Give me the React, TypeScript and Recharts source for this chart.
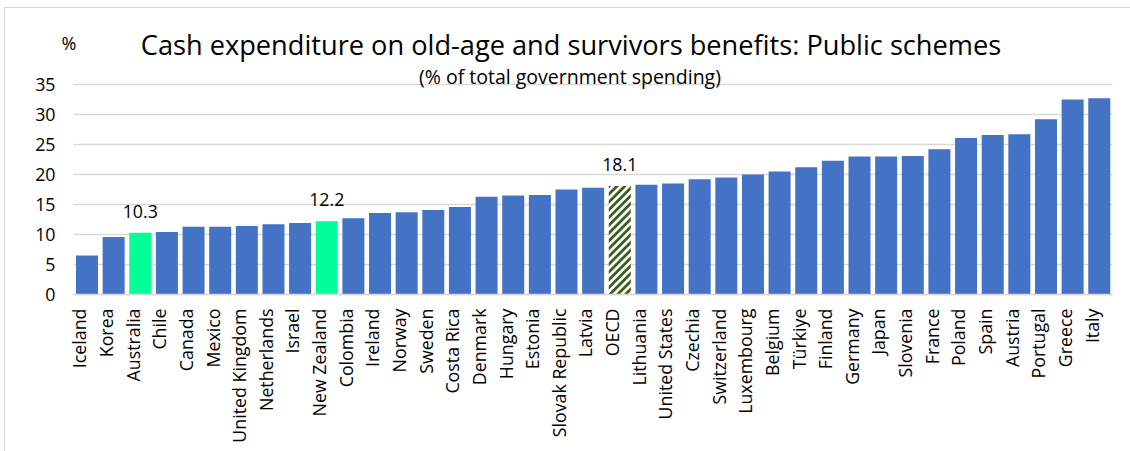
import React from "react";
import { BarChart, Bar, XAxis, YAxis, CartesianGrid, Cell, LabelList } from "recharts";

const countries = [
  "Iceland", "Korea", "Australia", "Chile", "Canada", "Mexico", "United Kingdom", "Netherlands",
  "Israel", "New Zealand", "Colombia", "Ireland", "Norway", "Sweden", "Costa Rica", "Denmark",
  "Hungary", "Estonia", "Slovak Republic", "Latvia", "OECD", "Lithuania", "United States", "Czechia",
  "Switzerland", "Luxembourg", "Belgium", "Türkiye", "Finland", "Germany", "Japan", "Slovenia",
  "France", "Poland", "Spain", "Austria", "Portugal", "Greece", "Italy",
];

const values = [
  6.5, 9.6, 10.3, 10.4, 11.3, 11.3, 11.4, 11.7,
  11.9, 12.2, 12.7, 13.6, 13.7, 14.1, 14.6, 16.3,
  16.5, 16.6, 17.5, 17.8, 18.1, 18.3, 18.5, 19.2,
  19.5, 20.0, 20.5, 21.2, 22.3, 23.0, 23.0, 23.1,
  24.2, 26.1, 26.6, 26.7, 29.2, 32.5, 32.7,
];

const highlighted = ["Australia", "New Zealand"];
const average = ["OECD"];
const labelled = ["Australia", "New Zealand", "OECD"];
const yTicks = [0, 5, 10, 15, 20, 25, 30, 35];

const title = "Cash expenditure on old-age and survivors benefits: Public schemes";
const subtitle = "(% of total government spending)";
const unit = "%";

const data = countries.map((c, i) => ({
  country: c,
  value: values[i],
  label: labelled.includes(c) ? values[i].toFixed(1) : null,
}));

const FONT = "'Open Sans', 'DejaVu Sans', sans-serif";
const BLUE = "#4472C4";
const GREEN = "#00FF99";

const XTick = (props: any) => {
  const { x, y, payload } = props;
  return (
    <text
      x={0}
      y={0}
      transform={`translate(${x - 0.5},${y + 6}) rotate(-90)`}
      textAnchor="end"
      fontFamily={FONT}
      fontSize={17.8}
      fill="#000"
    >
      {payload.value}
    </text>
  );
};

const ValueLabel = (props: any) => {
  const { x, y, width, value } = props;
  if (value === null || value === undefined) return null;
  return (
    <text
      x={x + width / 2}
      y={y - 15}
      textAnchor="middle"
      fontFamily={FONT}
      fontSize={17.8}
      fill="#000"
    >
      {value}
    </text>
  );
};

export default function App() {
  return (
    <div style={{ position: "absolute", left: 0, top: 0, width: 1130, height: 451, background: "#fff", overflow: "hidden" }}>
      <div
        style={{
          position: "absolute",
          left: 4,
          top: 7,
          width: 1140,
          height: 460,
          border: "1px solid #D9D9D9",
          boxSizing: "border-box",
        }}
      />
      <div style={{ position: "absolute", left: 0, top: 0 }}>
        <BarChart
          width={1130}
          height={451}
          data={data}
          margin={{ top: 84.5, right: 17.6, bottom: 0, left: 0 }}
          barCategoryGap={2.5}
        >
          <defs>
            <pattern id="oecdStripes" patternUnits="userSpaceOnUse" width="5.5" height="5.5" patternTransform="rotate(45)">
              <rect x="0" y="0" width="5.5" height="5.5" fill="#ffffff" />
              <rect x="0" y="0" width="2.8" height="5.5" fill="#3B5E1E" />
            </pattern>
          </defs>
          <CartesianGrid vertical={false} stroke="#D9D9D9" strokeWidth={1.3} />
          <XAxis
            dataKey="country"
            interval={0}
            height={156.5}
            tick={<XTick />}
            tickLine={false}
            axisLine={{ stroke: "#D9D9D9", strokeWidth: 1.3 }}
          />
          <YAxis
            width={73.5}
            domain={[0, 35]}
            ticks={yTicks}
            interval={0}
            tickLine={false}
            axisLine={false}
            tickMargin={12}
            tick={{ fontFamily: FONT, fontSize: 17.8, fill: "#000" }}
          />
          <Bar dataKey="value" isAnimationActive={false}>
            {data.map((d) => (
              <Cell
                key={d.country}
                fill={highlighted.includes(d.country) ? GREEN : average.includes(d.country) ? "url(#oecdStripes)" : BLUE}
              />
            ))}
            <LabelList dataKey="label" content={<ValueLabel />} />
          </Bar>
        </BarChart>
      </div>
      <svg width={1130} height={451} style={{ position: "absolute", left: 0, top: 0, pointerEvents: "none" }}>
        <text x={69} y={50} textAnchor="middle" fontFamily={FONT} fontSize={18} fill="#000">{unit}</text>
        <text x={571} y={54.5} textAnchor="middle" fontFamily={FONT} fontSize={27.2} fill="#000">{title}</text>
        <text x={570} y={83.5} textAnchor="middle" fontFamily={FONT} fontSize={19.5} fill="#000">{subtitle}</text>
      </svg>
    </div>
  );
}
